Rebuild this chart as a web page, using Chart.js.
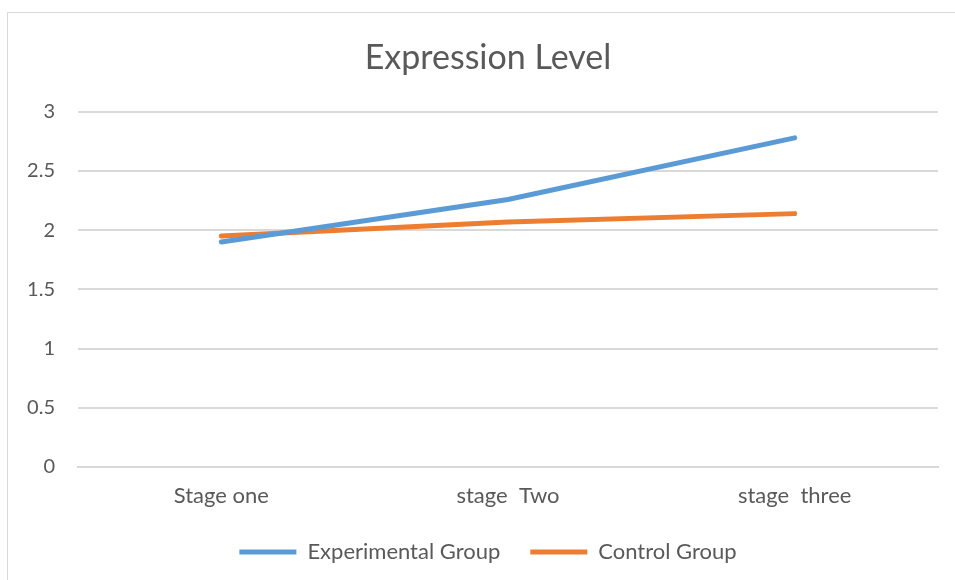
<!DOCTYPE html>
<html>
<head>
<meta charset="utf-8">
<script src="https://cdn.jsdelivr.net/npm/chart.js@4/dist/chart.umd.min.js"></script>
<style>
  html, body { margin: 0; padding: 0; background: #fff; }
  #wrap { position: relative; width: 955px; height: 580px; overflow: hidden; }
  #frame { position: absolute; left: 7px; top: 12px; width: 960px; height: 600px; border: 1px solid #d9d9d9; }
  #chart { position: absolute; left: 0; top: 0; }
</style>
</head>
<body>
<div id="wrap">
  <div id="frame"></div>
  <canvas id="chart" width="955" height="580"></canvas>
</div>
<script>
// Data
const stages = ['Stage one', 'stage  Two', 'stage  three'];
const experimental = [1.9, 2.26, 2.78];
const control = [1.95, 2.07, 2.14];
const yTicks = [0, 0.5, 1, 1.5, 2, 2.5, 3];

const textColor = '#595959';
const gridColor = '#d9d9d9';
const fontFamily = 'Lato, "Open Sans", sans-serif';

// title and legend are centred on the frame, not the whole canvas
const centreBlocks = {
    id: 'centreBlocks',
    afterLayout(chart) {
        if (chart.titleBlock) chart.titleBlock.left = 38;
        if (chart.legend) chart.legend.left = 38;
    }
};

new Chart(document.getElementById('chart'), {
    type: 'line',
    data: {
        labels: stages,
        datasets: [
            {
                label: 'Experimental Group',
                data: experimental,
                borderColor: '#5b9bd5',
                backgroundColor: '#5b9bd5',
                borderWidth: 5,
                borderCapStyle: 'round',
                pointRadius: 0,
                tension: 0
            },
            {
                label: 'Control Group',
                data: control,
                borderColor: '#ed7d31',
                backgroundColor: '#ed7d31',
                borderWidth: 5,
                borderCapStyle: 'round',
                pointRadius: 0,
                tension: 0
            }
        ]
    },
    options: {
        responsive: false,
        animation: false,
        layout: { padding: { left: 0, right: 17, top: 0, bottom: 7 } },
        plugins: {
            title: {
                display: true,
                text: 'Expression Level',
                color: textColor,
                font: { family: fontFamily, size: 34, weight: 'normal' },
                padding: { top: 38, bottom: 33 }
            },
            legend: {
                position: 'bottom',
                labels: {
                    color: textColor,
                    font: { family: fontFamily, size: 22 },
                    usePointStyle: true,
                    pointStyle: 'line',
                    pointStyleWidth: 57,
                    padding: 30
                }
            },
            tooltip: { enabled: false }
        },
        scales: {
            x: {
                offset: true,
                grid: { display: false },
                border: { color: gridColor, width: 2 },
                ticks: {
                    color: textColor,
                    font: { family: fontFamily, size: 22 },
                    padding: 8,
                    maxRotation: 0
                },
                afterFit: s => { s.height = 44; }
            },
            y: {
                min: 0,
                max: 3,
                afterBuildTicks: s => { s.ticks = yTicks.map(v => ({ value: v })); },
                grid: { color: gridColor, lineWidth: 2, drawTicks: false },
                border: { display: false },
                ticks: {
                    color: textColor,
                    font: { family: fontFamily, size: 20 },
                    padding: 23,
                    callback: v => String(v)
                },
                afterFit: s => { s.width = 78; }
            }
        }
    },
    plugins: [centreBlocks]
});
</script>
</body>
</html>
